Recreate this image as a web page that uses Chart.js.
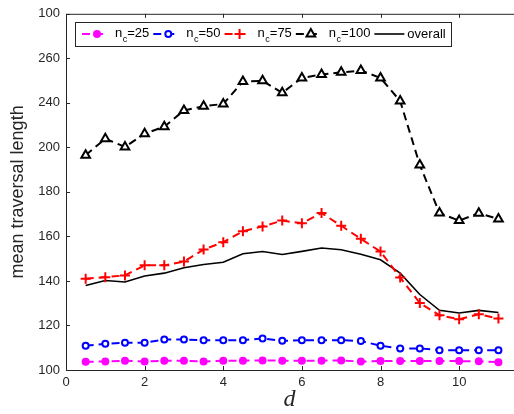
<!DOCTYPE html>
<html>
<head>
<meta charset="utf-8">
<script src="https://cdn.jsdelivr.net/npm/chart.js@4.4.0/dist/chart.umd.min.js"></script>
<style>
  html, body { margin: 0; padding: 0; background: #fff; }
  #wrap { width: 514px; height: 414px; overflow: hidden; }
</style>
</head>
<body>
<div id="wrap"><canvas id="myChart" width="520" height="414"></canvas></div>
<script>
// x values (d)
const dValues = [0.5, 1, 1.5, 2, 2.5, 3, 3.5, 4, 4.5, 5, 5.5, 6, 6.5, 7, 7.5, 8, 8.5, 9, 9.5, 10, 10.5, 11];

// mean traversal length per series
const nc25 = [103.7, 103.8, 104.2, 103.8, 104.2, 104.2, 103.8, 104.2, 104.2, 104.3, 104.2, 104.2, 104.2, 104.3, 103.8, 104.0, 104.0, 104.0, 104.0, 104.0, 103.9, 103.5];
const nc50 = [110.9, 111.8, 112.2, 112.2, 113.7, 113.7, 113.4, 113.4, 113.4, 114.2, 113.1, 113.4, 113.4, 113.4, 113.0, 110.9, 109.7, 109.7, 108.9, 108.9, 108.9, 108.9];
const nc75 = [141.0, 141.7, 142.5, 147.0, 147.0, 148.7, 154.1, 157.4, 162.3, 164.5, 167.1, 165.9, 170.5, 164.8, 158.9, 153.2, 141.5, 130.1, 124.6, 122.8, 125.0, 123.1];
const nc100 = [196.5, 203.9, 200.2, 206.1, 209.3, 216.6, 218.5, 219.5, 229.6, 229.9, 224.5, 231.2, 232.7, 233.7, 234.5, 231.2, 220.8, 192.1, 170.5, 167.1, 170.4, 167.8];
const overall = [138.0, 140.2, 139.5, 142.2, 143.5, 145.9, 147.4, 148.4, 152.2, 153.2, 151.9, 153.3, 154.8, 154.0, 152.0, 149.5, 143.5, 133.9, 126.8, 125.6, 126.8, 125.8];

// tick labels as printed on the figure
const xTicks = [0, 2, 4, 6, 8, 10];
const yTicks = [100, 120, 140, 160, 180, 200, 220, 240, 260];
const yTickLabels = ['100', '120', '140', '160', '180', '200', '240', '260', '100'];

const legendNames = ['25', '50', '75', '100', 'overall'];

const FONT = "'Liberation Sans', Arial, sans-serif";
const AXIS_COLOR = '#262626';

function toPoints(ys) {
  return dValues.map((x, i) => ({ x, y: ys[i] }));
}

const dash = [8, 5];

const seriesStyles = [
  { color: '#ff00ff', pointStyle: 'circle', radius: 3, fill: '#ff00ff', dashed: true },
  { color: '#0000ff', pointStyle: 'circle', radius: 3, fill: '#ffffff', dashed: true },
  { color: '#ff0000', pointStyle: 'cross', radius: 5, fill: '#ff0000', dashed: true },
  { color: '#000000', pointStyle: 'triangle', radius: 5, fill: '#ffffff', dashed: true },
  { color: '#000000', pointStyle: false, radius: 0, fill: '#000000', dashed: false }
];

const seriesData = [nc25, nc50, nc75, nc100, overall];

const datasets = seriesData.map((ys, i) => {
  const s = seriesStyles[i];
  return {
    label: legendNames[i],
    data: toPoints(ys),
    borderColor: s.color,
    backgroundColor: s.fill,
    borderWidth: s.dashed ? 2 : 1.6,
    borderDash: s.dashed ? dash : [],
    pointStyle: s.pointStyle,
    pointRadius: s.radius,
    pointBorderWidth: 2,
    pointBorderColor: s.color,
    pointBackgroundColor: s.fill,
    tension: 0,
    fill: false
  };
});

// axes box with inward ticks, MATLAB style
const axesBox = {
  id: 'axesBox',
  afterDatasetsDraw(chart) {
    const { ctx, chartArea } = chart;
    const xs = chart.scales.x;
    const ys = chart.scales.y;
    ctx.save();
    ctx.strokeStyle = AXIS_COLOR;
    ctx.lineWidth = 1;
    ctx.beginPath();
    ctx.moveTo(chartArea.left + 0.5, chartArea.top + 0.5);
    ctx.lineTo(chartArea.left + 0.5, chartArea.bottom + 0.5);
    ctx.lineTo(chartArea.right + 2, chartArea.bottom + 0.5);
    ctx.moveTo(chartArea.left + 0.5, chartArea.top + 0.5);
    ctx.lineTo(chartArea.right + 2, chartArea.top + 0.5);
    xTicks.forEach(v => {
      const px = Math.round(xs.getPixelForValue(v)) + 0.5;
      ctx.moveTo(px, chartArea.bottom);
      ctx.lineTo(px, chartArea.bottom - 4);
      ctx.moveTo(px, chartArea.top);
      ctx.lineTo(px, chartArea.top + 4);
    });
    yTicks.forEach(v => {
      const py = Math.round(ys.getPixelForValue(v)) + 0.5;
      ctx.moveTo(chartArea.left, py);
      ctx.lineTo(chartArea.left + 4, py);
    });
    ctx.stroke();
    ctx.restore();
  }
};

function drawMarker(ctx, style, x, y) {
  ctx.save();
  ctx.setLineDash([]);
  ctx.lineWidth = 2;
  ctx.strokeStyle = style.color;
  ctx.fillStyle = style.fill;
  ctx.beginPath();
  if (style.pointStyle === 'circle') {
    ctx.arc(x, y, style.radius, 0, Math.PI * 2);
    ctx.fill();
    ctx.stroke();
  } else if (style.pointStyle === 'cross') {
    ctx.moveTo(x - style.radius, y);
    ctx.lineTo(x + style.radius, y);
    ctx.moveTo(x, y - style.radius);
    ctx.lineTo(x, y + style.radius);
    ctx.stroke();
  } else if (style.pointStyle === 'triangle') {
    const r = style.radius;
    ctx.moveTo(x, y - r);
    ctx.lineTo(x + r * 0.87, y + r * 0.5);
    ctx.lineTo(x - r * 0.87, y + r * 0.5);
    ctx.closePath();
    ctx.fill();
    ctx.stroke();
  }
  ctx.restore();
}

// boxed legend inside the axes
const boxLegend = {
  id: 'boxLegend',
  afterDraw(chart) {
    const { ctx } = chart;
    const left = 75, top = 22, right = 451, bottom = 46;
    const cy = (top + bottom) / 2;
    ctx.save();
    ctx.fillStyle = '#ffffff';
    ctx.fillRect(left, top, right - left, bottom - top);
    ctx.strokeStyle = '#262626';
    ctx.lineWidth = 1;
    ctx.strokeRect(left + 0.5, top + 0.5, right - left, bottom - top);

    let cursor = left + 3;
    legendNames.forEach((name, i) => {
      const s = seriesStyles[i];
      const lineStart = cursor + 4;
      const lineLen = s.dashed ? 24 : 30;
      ctx.strokeStyle = s.color;
      ctx.lineWidth = s.dashed ? 2 : 1.6;
      ctx.setLineDash(s.dashed ? dash : []);
      ctx.beginPath();
      ctx.moveTo(lineStart, cy);
      ctx.lineTo(lineStart + lineLen, cy);
      ctx.stroke();
      ctx.setLineDash([]);
      if (s.pointStyle) drawMarker(ctx, s, lineStart + 15, cy);

      let tx = lineStart + lineLen + (s.dashed ? 9 : 3);
      ctx.fillStyle = '#000000';
      ctx.textBaseline = 'middle';
      ctx.textAlign = 'left';
      if (s.dashed) {
        ctx.font = '13px ' + FONT;
        ctx.fillText('n', tx, cy - 1);
        tx += ctx.measureText('n').width + 0.5;
        ctx.font = '9px ' + FONT;
        ctx.fillText('c', tx, cy + 6);
        tx += ctx.measureText('c').width;
        ctx.font = '13px ' + FONT;
        ctx.fillText('=' + name, tx, cy - 1);
        tx += ctx.measureText('=' + name).width;
      } else {
        ctx.font = '13px ' + FONT;
        ctx.fillText(name, tx, cy);
        tx += ctx.measureText(name).width;
      }
      cursor = tx;
    });
    ctx.restore();
  }
};

const ctx = document.getElementById('myChart').getContext('2d');

const config = {
  type: 'line',
  data: { datasets },
  options: {
    responsive: false,
    animation: false,
    layout: { padding: { top: 12, right: 0, left: 0, bottom: 0 } },
    plugins: {
      legend: { display: false },
      tooltip: { enabled: false }
    },
    scales: {
      x: {
        type: 'linear',
        min: 0,
        max: 11.37,
        grid: { display: false, drawTicks: false },
        border: { display: false },
        afterBuildTicks(scale) {
          scale.ticks = xTicks.map(v => ({ value: v }));
        },
        afterFit(scale) { scale.height = 44; },
        ticks: {
          color: AXIS_COLOR,
          padding: 5,
          font: { family: FONT, size: 13 },
          callback: (v) => String(v)
        },
        title: {
          display: true,
          text: 'd',
          color: AXIS_COLOR,
          padding: { top: 0, bottom: 0 },
          font: { family: "'Liberation Serif', 'Times New Roman', serif", size: 24, style: 'italic' }
        }
      },
      y: {
        type: 'linear',
        min: 100,
        max: 260,
        grid: { display: false, drawTicks: false },
        border: { display: false },
        afterBuildTicks(scale) {
          scale.ticks = yTicks.map(v => ({ value: v }));
        },
        afterFit(scale) { scale.width = 66; },
        ticks: {
          color: AXIS_COLOR,
          padding: 6,
          font: { family: FONT, size: 13 },
          callback: (v) => {
            const idx = yTicks.indexOf(v);
            return idx >= 0 ? yTickLabels[idx] : '';
          }
        },
        title: {
          display: true,
          text: 'mean traversal length',
          color: AXIS_COLOR,
          padding: { top: 7, bottom: 0 },
          font: { family: FONT, size: 18 }
        }
      }
    }
  },
  plugins: [axesBox, boxLegend]
};

const myChart = new Chart(ctx, config);
</script>
</body>
</html>
